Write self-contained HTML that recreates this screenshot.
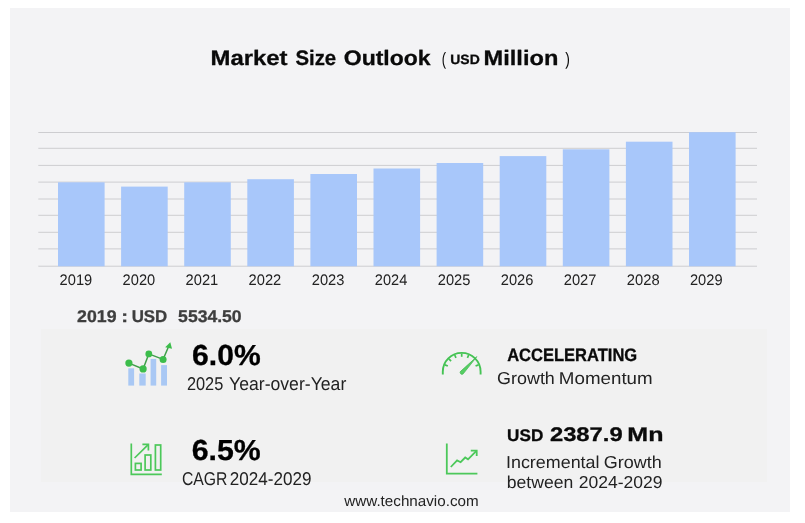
<!DOCTYPE html>
<html><head><meta charset="utf-8">
<style>
html,body{margin:0;padding:0;background:#fff;}
body{width:805px;height:523px;position:relative;overflow:hidden;font-family:"Liberation Sans",sans-serif;}
#panel{position:absolute;left:10px;top:8px;width:780px;height:504px;background:#f3f3f5;}
#stats{position:absolute;left:41px;top:329px;width:726px;height:153px;background:#f1f1f1;}
.t{position:absolute;left:0;top:0;white-space:nowrap;line-height:1;color:#222;transform-origin:0 0;text-rendering:geometricPrecision;}
.b{font-weight:bold;-webkit-text-stroke:0.3px currentColor;}
svg{position:absolute;left:0;top:0;}
</style></head><body>
<div id="panel"></div>
<div id="stats"></div>
<svg width="805" height="523" viewBox="0 0 805 523">
<g id="grid" stroke="#cdcdd0" stroke-width="1">
<line x1="38.3" x2="757" y1="132.5" y2="132.5"/>
<line x1="38.3" x2="757" y1="148.3" y2="148.3"/>
<line x1="38.3" x2="757" y1="165.4" y2="165.4"/>
<line x1="38.3" x2="757" y1="182.1" y2="182.1"/>
<line x1="38.3" x2="757" y1="199.0" y2="199.0"/>
<line x1="38.3" x2="757" y1="215.3" y2="215.3"/>
<line x1="38.3" x2="757" y1="232.3" y2="232.3"/>
<line x1="38.3" x2="757" y1="248.9" y2="248.9"/>
<line x1="38.3" x2="757" y1="266.2" y2="266.2"/>
</g>
<g id="bars" fill="#a8c7fa">
<rect x="58" y="182.3" width="46.6" height="84"/>
<rect x="121.1" y="186.6" width="46.6" height="79.7"/>
<rect x="184.2" y="182.3" width="46.6" height="84"/>
<rect x="247.3" y="179.2" width="46.6" height="87.1"/>
<rect x="310.4" y="174" width="46.6" height="92.3"/>
<rect x="373.5" y="168.5" width="46.6" height="97.8"/>
<rect x="436.6" y="163" width="46.6" height="103.3"/>
<rect x="499.7" y="156.1" width="46.6" height="110.2"/>
<rect x="562.8" y="149.3" width="46.6" height="117"/>
<rect x="625.9" y="141.7" width="46.6" height="124.6"/>
<rect x="689" y="132.2" width="46.6" height="134.1"/>
</g>

<g id="icon1">
<g fill="#a9c8f4">
<rect x="128.3" y="368.3" width="5.8" height="17.3"/>
<rect x="139.3" y="373.5" width="6.4" height="12.1"/>
<rect x="150.6" y="358.9" width="5.6" height="26.7"/>
<rect x="161.1" y="365.1" width="5.9" height="20.5"/>
</g>
<polyline points="128.9,363.1 143.1,368.9 148.8,353.9 163.1,359.4 168.4,347.0" fill="none" stroke="#3f9f49" stroke-width="1.5"/>
<g fill="#3cbd4b">
<circle cx="128.9" cy="363.1" r="3.6"/>
<circle cx="143.1" cy="368.9" r="3.6"/>
<circle cx="148.8" cy="353.9" r="3.4"/>
<circle cx="163.1" cy="359.4" r="3.5"/>
<polygon points="170.3,342.2 172.0,348.7 165.2,347.3"/>
</g>
</g>
<g id="icon2" fill="none" stroke="#4cc85a" stroke-width="1.7">
<polyline points="131.3,443.6 131.3,474.3 161.8,474.3"/>
<rect x="135.4" y="463.4" width="5.7" height="6.6"/>
<rect x="145.1" y="455.0" width="5.7" height="15.0"/>
<rect x="155.4" y="445.0" width="5.3" height="25.0"/>
<polyline points="134.6,458.0 148.2,444.6"/>
<polyline points="142.4,444.4 148.4,444.4 148.4,450.6"/>
</g>
<g id="icon3" fill="none" stroke="#45c354" stroke-width="1.9" stroke-linecap="butt">
<path d="M442.80,374.4 L442.80,371.8 A18.9,18.9 0 0 1 480.60,371.8 L480.60,374.4"/>
<g stroke-width="1.7">
<line x1="444.89" y1="364.84" x2="447.84" y2="366.06"/>
<line x1="448.83" y1="358.93" x2="451.09" y2="361.19"/>
<line x1="454.74" y1="354.99" x2="455.96" y2="357.94"/>
<line x1="461.70" y1="353.60" x2="461.70" y2="356.80"/>
<line x1="468.66" y1="354.99" x2="467.44" y2="357.94"/>
<line x1="478.51" y1="364.84" x2="475.56" y2="366.06"/>
</g>
<path d="M476.90,356.60 L463.21,373.83 A1.8,1.8 0 0 1 460.59,371.37 Z" fill="#55cf63" stroke="#3fb54d" stroke-width="0.7" stroke-linejoin="round"/>
</g>
<g id="icon4" fill="none" stroke="#4cc85a" stroke-width="1.8">
<polyline points="446.8,443.4 446.8,473.7 477.4,473.7"/>
<polyline points="450.8,467.0 457.1,460.4 460.6,462.2 465.2,457.5 468.0,459.3 476.4,450.9"/>
<polyline points="470.8,450.6 476.7,450.6 476.7,456.0"/>
</g>
</svg>

<div class="t b" id="t1" style="font-size:21px;color:#0a0a0a;transform:translate(210.49px,48px) scaleX(1.1375)">Market</div>
<div class="t b" id="t2" style="font-size:21px;color:#0a0a0a;transform:translate(295.43px,48px) scaleX(0.9694)">Size</div>
<div class="t b" id="t3" style="font-size:21px;color:#0a0a0a;transform:translate(343.79px,48px) scaleX(1.0946)">Outlook</div>
<div class="t" id="lp" style="font-size:18px;color:#0a0a0a;transform:translate(441.72px,50px) scaleX(0.7183)">(</div>
<div class="t b" id="usd0" style="font-size:13.5px;color:#0a0a0a;transform:translate(450.26px,53px) scaleX(1.0335)">USD</div>
<div class="t b" id="mil" style="font-size:21px;color:#0a0a0a;transform:translate(483.57px,48px) scaleX(1.1242)">Million</div>
<div class="t" id="rp" style="font-size:18px;color:#0a0a0a;transform:translate(565.27px,50px) scaleX(0.7741)">)</div>
<div class="t b" id="s0a" style="font-size:17px;color:#3e3e3e;transform:translate(77.10px,308px) scaleX(1.0424)">2019</div>
<div class="t b" id="s0b" style="font-size:17px;color:#3e3e3e;transform:translate(121.35px,308px) scaleX(1.1985)">:</div>
<div class="t b" id="s0c" style="font-size:17px;color:#3e3e3e;transform:translate(131.65px,308px) scaleX(0.9922)">USD</div>
<div class="t b" id="s0d" style="font-size:17px;color:#3e3e3e;transform:translate(178.11px,308px) scaleX(1.0337)">5534.50</div>
<div class="t b" id="v1" style="font-size:29px;color:#000;transform:translate(192.10px,342px) scaleX(1.0385)">6.0%</div>
<div class="t" id="l1a" style="font-size:18.5px;color:#222;transform:translate(186.89px,375px) scaleX(0.8842)">2025</div>
<div class="t" id="l1b" style="font-size:18.5px;color:#222;transform:translate(229.06px,375px) scaleX(0.9522)">Year-over-Year</div>
<div class="t b" id="v2" style="font-size:29px;color:#000;transform:translate(191.79px,437px) scaleX(1.0435)">6.5%</div>
<div class="t" id="l2a" style="font-size:18.5px;color:#222;transform:translate(181.99px,470px) scaleX(0.8514)">CAGR</div>
<div class="t" id="l2b" style="font-size:18.5px;color:#222;transform:translate(229.87px,470px) scaleX(0.9232)">2024-2029</div>
<div class="t b" id="v3" style="font-size:18px;color:#0a0a0a;transform:translate(507.15px,346px) scaleX(0.9178)">ACCELERATING</div>
<div class="t" id="l3a" style="font-size:17.2px;color:#222;transform:translate(497.10px,370px) scaleX(1.0422)">Growth</div>
<div class="t" id="l3b" style="font-size:17.2px;color:#222;transform:translate(558.84px,370px) scaleX(1.0913)">Momentum</div>
<div class="t b" id="v4a" style="font-size:16.7px;color:#0a0a0a;transform:translate(507.10px,428px) scaleX(1.0270)">USD</div>
<div class="t b" id="v4b" style="font-size:19.7px;color:#0a0a0a;transform:translate(549.91px,426px) scaleX(1.2085)">2387.9</div>
<div class="t b" id="v4c" style="font-size:19.7px;color:#0a0a0a;transform:translate(627.35px,426px) scaleX(1.2717)">Mn</div>
<div class="t" id="l4a" style="font-size:17.3px;color:#222;transform:translate(505.96px,454px) scaleX(1.0362)">Incremental</div>
<div class="t" id="l4b" style="font-size:17.3px;color:#222;transform:translate(603.67px,454px) scaleX(1.0408)">Growth</div>
<div class="t" id="l4c" style="font-size:17.3px;color:#222;transform:translate(506.77px,474px) scaleX(1.0172)">between</div>
<div class="t" id="l4d" style="font-size:17.3px;color:#222;transform:translate(578.67px,474px) scaleX(1.0141)">2024-2029</div>
<div class="t" id="web" style="font-size:15px;color:#222;transform:translate(344.32px,494px) scaleX(1.0130)">www.technavio.com</div>
<div class="t" id="y0" style="font-size:15.3px;color:#222;transform:translate(59.60px,273px) scaleX(0.9579)">2019</div>
<div class="t" id="y1" style="font-size:15.3px;color:#222;transform:translate(122.61px,273px) scaleX(0.9574)">2020</div>
<div class="t" id="y2" style="font-size:15.3px;color:#222;transform:translate(185.60px,273px) scaleX(0.9600)">2021</div>
<div class="t" id="y3" style="font-size:15.3px;color:#222;transform:translate(248.60px,273px) scaleX(0.9601)">2022</div>
<div class="t" id="y4" style="font-size:15.3px;color:#222;transform:translate(311.79px,273px) scaleX(0.9597)">2023</div>
<div class="t" id="y5" style="font-size:15.3px;color:#222;transform:translate(374.82px,273px) scaleX(0.9525)">2024</div>
<div class="t" id="y6" style="font-size:15.3px;color:#222;transform:translate(437.81px,273px) scaleX(0.9580)">2025</div>
<div class="t" id="y7" style="font-size:15.3px;color:#222;transform:translate(500.78px,273px) scaleX(0.9566)">2026</div>
<div class="t" id="y8" style="font-size:15.3px;color:#222;transform:translate(563.76px,273px) scaleX(0.9605)">2027</div>
<div class="t" id="y9" style="font-size:15.3px;color:#222;transform:translate(626.79px,273px) scaleX(0.9638)">2028</div>
<div class="t" id="y10" style="font-size:15.3px;color:#222;transform:translate(689.94px,273px) scaleX(0.9579)">2029</div>
</body></html>
